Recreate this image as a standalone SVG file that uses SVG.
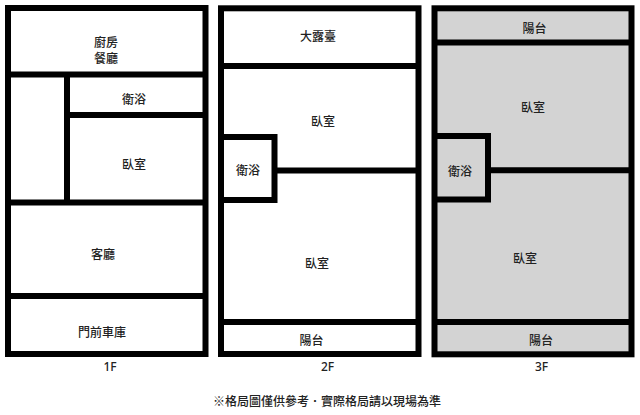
<svg xmlns="http://www.w3.org/2000/svg" width="640" height="415" viewBox="0 0 640 415">
<style>
.wall{fill:none;stroke:#000;stroke-width:6;stroke-linejoin:miter}
.t{font-family:"Noto Sans CJK TC","Noto Sans",sans-serif;font-size:12px;font-weight:500;fill:#222;text-anchor:middle;dominant-baseline:central}
.f{font-family:"Noto Sans","Noto Sans CJK TC",sans-serif;font-size:12px;font-weight:500;fill:#222;text-anchor:middle;dominant-baseline:central}
</style>
<rect width="640" height="415" fill="#fff"/>
<g id="floor1">
<rect x="8" y="8" width="197.5" height="346" class="wall" style="fill:#fff"/>
<path class="wall" d="M8 74.5H205.5M67 74.5V202.5M67 115H205.5M8 202.5H205.5M8 296H205.5"/>
<text class="t" x="106" y="41">廚房</text>
<text class="t" x="106" y="57">餐廳</text>
<text class="t" x="134" y="98">衛浴</text>
<text class="t" x="134" y="163">臥室</text>
<text class="t" x="103" y="253.5">客廳</text>
<text class="t" x="102" y="331">門前車庫</text>
<text class="f" x="110" y="366">1F</text>
</g>
<g id="floor2">
<rect x="221" y="8.3" width="197.5" height="345.7" class="wall" style="fill:#fff"/>
<path class="wall" d="M221 66H418.5M221 137H274.5V200H221M274.5 170.5H418.5M221 322H418.5"/>
<text class="t" x="318" y="35">大露臺</text>
<text class="t" x="323" y="120.5">臥室</text>
<text class="t" x="248" y="169.5">衛浴</text>
<text class="t" x="317" y="262">臥室</text>
<text class="t" x="311.5" y="339">陽台</text>
<text class="f" x="327.5" y="366">2F</text>
</g>
<g id="floor3">
<rect x="434.5" y="8.3" width="197" height="346" class="wall" style="fill:#d3d3d3"/>
<path class="wall" d="M434.5 42.5H631.5M434.5 136H488V199.5H434.5M488 170.3H631.5M434.5 322H631.5"/>
<text class="t" x="534.5" y="27.5">陽台</text>
<text class="t" x="533" y="106">臥室</text>
<text class="t" x="460" y="170">衛浴</text>
<text class="t" x="525" y="257">臥室</text>
<text class="t" x="541" y="339">陽台</text>
<text class="f" x="541.5" y="366">3F</text>
</g>
<text class="t" x="327" y="400.5">※格局圖僅供參考．實際格局請以現場為準</text>
</svg>
